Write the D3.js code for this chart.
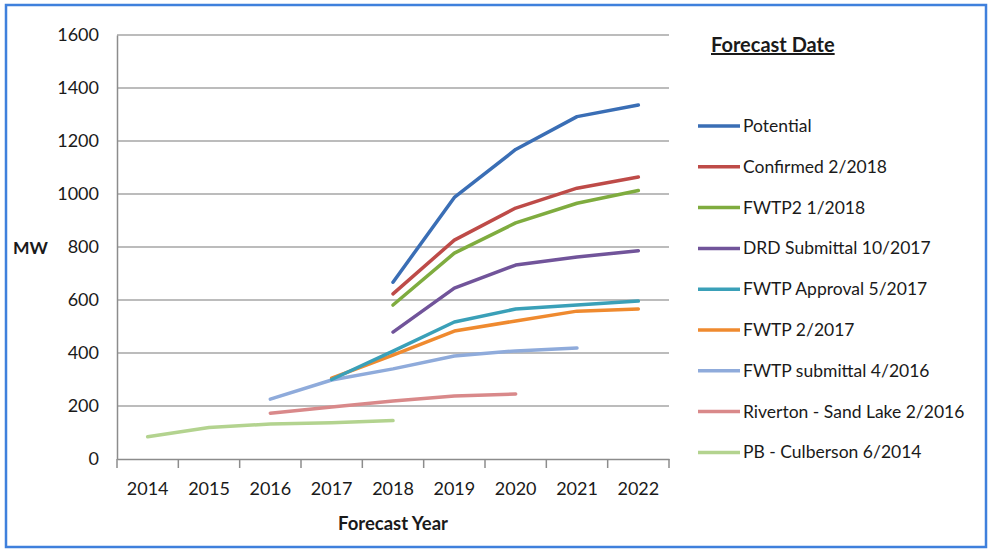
<!DOCTYPE html>
<html>
<head>
<meta charset="utf-8">
<script src="https://cdn.jsdelivr.net/npm/d3@7"></script>
<style>
  body { margin: 0; background: #fff; }
  text { font-family: Lato, "Open Sans", sans-serif; fill: #1a1a1a; }
</style>
</head>
<body>
<div id="chart"></div>
<script>
const width = 992;
const height = 549;

// données
const years = ["2014", "2015", "2016", "2017", "2018", "2019", "2020", "2021", "2022"];
const yTicks = [0, 200, 400, 600, 800, 1000, 1200, 1400, 1600];

const potential      = [null, null, null, null, 667, 987, 1168, 1292, 1336];
const confirmed      = [null, null, null, null, 623, 826, 947, 1022, 1064];
const fwtp2          = [null, null, null, null, 581, 777, 891, 965, 1013];
const drdSubmittal   = [null, null, null, null, 479, 645, 732, 762, 786];
const fwtpApproval   = [null, null, null, 300, 407, 517, 566, 581, 596];
const fwtp2017       = [null, null, null, 305, 392, 483, 521, 558, 566];
const fwtpSubmittal  = [null, null, 226, 298, 340, 389, 408, 419, null];
const riverton       = [null, null, 173, 196, 219, 238, 245, null, null];
const pbCulberson    = [84, 119, 132, 137, 145, null, null, null, null];

const seriesNames = ["Potential", "Confirmed 2/2018", "FWTP2 1/2018", "DRD Submittal 10/2017",
  "FWTP Approval 5/2017", "FWTP 2/2017", "FWTP submittal 4/2016",
  "Riverton - Sand Lake 2/2016", "PB - Culberson 6/2014"];
const seriesValues = [potential, confirmed, fwtp2, drdSubmittal, fwtpApproval,
  fwtp2017, fwtpSubmittal, riverton, pbCulberson];
const seriesColors = ["#3a6eb5", "#be4b48", "#7fac3f", "#71549a", "#3aa0b8",
  "#ef8a2f", "#8fabdb", "#d9898a", "#b3d38f"];

const svg = d3.select("#chart").append("svg")
    .attr("width", width)
    .attr("height", height);

// cadre bleu
svg.append("rect")
    .attr("x", 6).attr("y", 5)
    .attr("width", 980).attr("height", 542)
    .attr("fill", "none")
    .attr("stroke", "#3f80dc")
    .attr("stroke-width", 2.5);

const x = d3.scaleBand().domain(years).range([117, 669]);
const y = d3.scaleLinear().domain([0, 1600]).range([459, 35]);

// grille horizontale
svg.append("g")
    .selectAll("line")
    .data(yTicks.filter(d => d > 0))
    .enter().append("line")
    .attr("x1", 117).attr("x2", 669)
    .attr("y1", d => y(d)).attr("y2", d => y(d))
    .attr("stroke", "#a6a6a6")
    .attr("stroke-width", 1.5);

// axe Y
const yAxis = svg.append("g")
    .attr("transform", "translate(117,0)")
    .call(d3.axisLeft(y).tickValues(yTicks).tickFormat(d3.format("d")).tickSize(0).tickPadding(18));
yAxis.select(".domain").attr("stroke", "#8c8c8c").attr("stroke-width", 1.5);
yAxis.selectAll("text").attr("font-size", 18).attr("fill", "#1a1a1a");

// axe X
const xAxis = svg.append("g")
    .attr("transform", "translate(0,459)")
    .call(d3.axisBottom(x).tickSize(0).tickPadding(23));
xAxis.select(".domain").attr("stroke", "#8c8c8c").attr("stroke-width", 1.5);
xAxis.selectAll("text").attr("font-size", 18).attr("fill", "#1a1a1a");

// graduations entre les catégories
const edges = years.map(d => x(d)).concat([x(years[years.length - 1]) + x.bandwidth()]);
svg.append("g")
    .selectAll("line")
    .data(edges)
    .enter().append("line")
    .attr("x1", d => d).attr("x2", d => d)
    .attr("y1", 459).attr("y2", 468)
    .attr("stroke", "#8c8c8c")
    .attr("stroke-width", 1.5);

// titres des axes
svg.append("text")
    .attr("x", 393).attr("y", 530)
    .attr("text-anchor", "middle")
    .attr("font-size", 18.5)
    .attr("font-weight", "bold")
    .text("Forecast Year");

svg.append("text")
    .attr("x", 13).attr("y", 254)
    .attr("font-size", 17.5)
    .attr("font-weight", "bold")
    .text("MW");

// courbes
const line = d3.line()
    .defined(d => d.v !== null)
    .x(d => x(d.year) + x.bandwidth() / 2)
    .y(d => y(d.v));

// dessiner de la dernière à la première pour que "Potential" reste au-dessus
for (let i = seriesValues.length - 1; i >= 0; i--) {
    const pts = years.map((yr, j) => ({ year: yr, v: seriesValues[i][j] }));
    svg.append("path")
        .datum(pts)
        .attr("d", line)
        .attr("fill", "none")
        .attr("stroke", seriesColors[i])
        .attr("stroke-width", 3.5)
        .attr("stroke-linejoin", "round")
        .attr("stroke-linecap", "round");
}

// légende
svg.append("text")
    .attr("x", 711).attr("y", 52)
    .attr("font-size", 20)
    .attr("font-weight", "bold")
    .attr("text-decoration", "underline")
    .text("Forecast Date");

const legend = svg.append("g")
    .selectAll("g")
    .data(seriesNames)
    .enter().append("g")
    .attr("transform", (d, i) => `translate(0,${126 + i * 40.8})`);

legend.append("line")
    .attr("x1", 698).attr("x2", 740)
    .attr("y1", 0).attr("y2", 0)
    .attr("stroke", (d, i) => seriesColors[i])
    .attr("stroke-width", 3.5);

legend.append("text")
    .attr("x", 743)
    .attr("y", 6)
    .attr("font-size", 17.5)
    .text(d => d);
</script>
</body>
</html>
